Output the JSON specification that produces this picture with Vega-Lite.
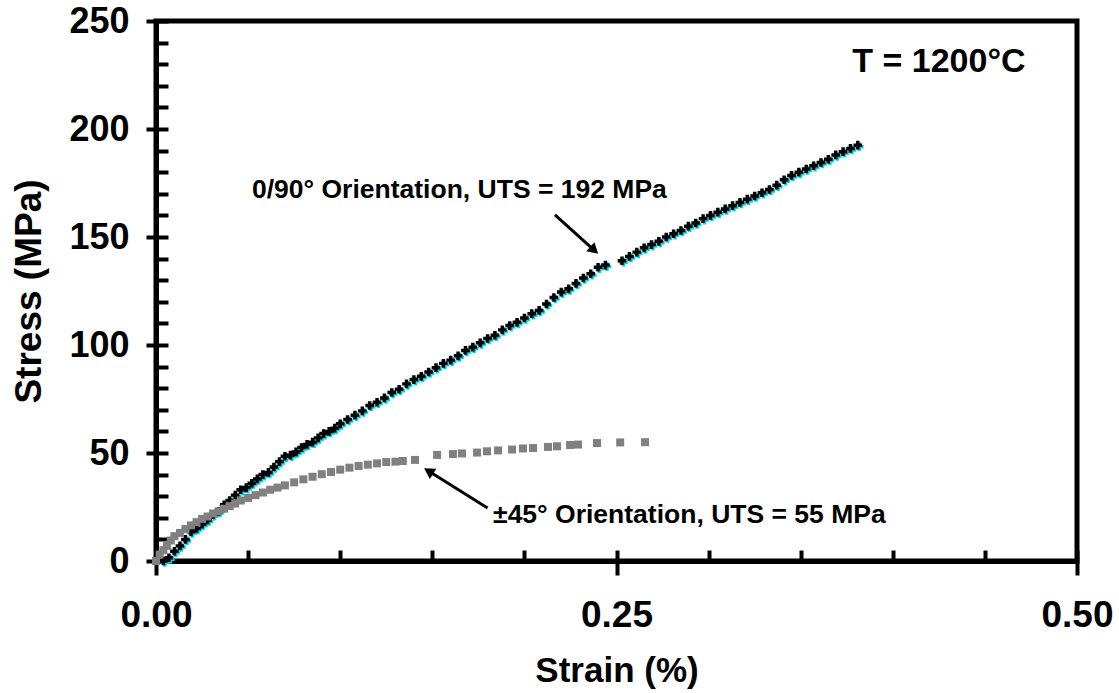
{
  "$schema": "https://vega.github.io/schema/vega-lite/v6.json",
  "width": 921,
  "height": 540,
  "autosize": {"type": "none"},
  "padding": {"left": 156, "top": 21, "right": 42, "bottom": 132},
  "background": "white",
  "config": {
    "view": {"stroke": "black", "strokeWidth": 5},
    "font": "Liberation Sans",
    "axis": {"labelFont": "Liberation Sans", "titleFont": "Liberation Sans", "labelFontWeight": "bold", "titleFontWeight": "bold", "labelColor": "black", "titleColor": "black", "domainColor": "black", "tickColor": "black", "grid": false}
  },
  "datasets": {
    "s090": [
      {"strain": 0.004, "stress": 0}, {"strain": 0.007, "stress": 1.5}, {"strain": 0.010, "stress": 4.5}, {"strain": 0.013, "stress": 7},
      {"strain": 0.016, "stress": 10}, {"strain": 0.019, "stress": 13.5}, {"strain": 0.022, "stress": 15}, {"strain": 0.025, "stress": 17},
      {"strain": 0.028, "stress": 19}, {"strain": 0.031, "stress": 21.5}, {"strain": 0.034, "stress": 23}, {"strain": 0.037, "stress": 26},
      {"strain": 0.040, "stress": 28}, {"strain": 0.043, "stress": 30.5}, {"strain": 0.046, "stress": 33}, {"strain": 0.049, "stress": 34},
      {"strain": 0.052, "stress": 36}, {"strain": 0.055, "stress": 38}, {"strain": 0.058, "stress": 40}, {"strain": 0.061, "stress": 41},
      {"strain": 0.064, "stress": 43.5}, {"strain": 0.067, "stress": 46}, {"strain": 0.070, "stress": 48.5}, {"strain": 0.073, "stress": 49},
      {"strain": 0.076, "stress": 50.5}, {"strain": 0.079, "stress": 52.5}, {"strain": 0.082, "stress": 54}, {"strain": 0.085, "stress": 55},
      {"strain": 0.088, "stress": 57}, {"strain": 0.091, "stress": 59}, {"strain": 0.094, "stress": 60}, {"strain": 0.097, "stress": 61.5},
      {"strain": 0.100, "stress": 63.5}, {"strain": 0.104, "stress": 65.5}, {"strain": 0.108, "stress": 67.5}, {"strain": 0.112, "stress": 69.5},
      {"strain": 0.116, "stress": 72}, {"strain": 0.120, "stress": 73.5}, {"strain": 0.124, "stress": 75.5}, {"strain": 0.128, "stress": 78},
      {"strain": 0.132, "stress": 79.5}, {"strain": 0.136, "stress": 82}, {"strain": 0.140, "stress": 84}, {"strain": 0.144, "stress": 85.5},
      {"strain": 0.148, "stress": 87.5}, {"strain": 0.152, "stress": 89.5}, {"strain": 0.156, "stress": 91.5}, {"strain": 0.160, "stress": 93},
      {"strain": 0.164, "stress": 95}, {"strain": 0.168, "stress": 97.5}, {"strain": 0.172, "stress": 99}, {"strain": 0.176, "stress": 101},
      {"strain": 0.180, "stress": 103}, {"strain": 0.184, "stress": 104.5}, {"strain": 0.188, "stress": 107}, {"strain": 0.192, "stress": 109},
      {"strain": 0.196, "stress": 110.5}, {"strain": 0.200, "stress": 112.5}, {"strain": 0.204, "stress": 114.5}, {"strain": 0.208, "stress": 116},
      {"strain": 0.212, "stress": 119}, {"strain": 0.216, "stress": 122}, {"strain": 0.220, "stress": 124.5}, {"strain": 0.224, "stress": 126},
      {"strain": 0.228, "stress": 128.5}, {"strain": 0.232, "stress": 131}, {"strain": 0.236, "stress": 133}, {"strain": 0.240, "stress": 136},
      {"strain": 0.244, "stress": 137}, {"strain": 0.253, "stress": 139}, {"strain": 0.257, "stress": 141}, {"strain": 0.261, "stress": 143},
      {"strain": 0.265, "stress": 145}, {"strain": 0.269, "stress": 146.5}, {"strain": 0.273, "stress": 148}, {"strain": 0.277, "stress": 150},
      {"strain": 0.281, "stress": 151.5}, {"strain": 0.285, "stress": 153}, {"strain": 0.289, "stress": 155}, {"strain": 0.293, "stress": 156.5},
      {"strain": 0.297, "stress": 158.5}, {"strain": 0.301, "stress": 160}, {"strain": 0.305, "stress": 161.5}, {"strain": 0.309, "stress": 163},
      {"strain": 0.313, "stress": 164.5}, {"strain": 0.317, "stress": 166}, {"strain": 0.321, "stress": 167.5}, {"strain": 0.325, "stress": 169},
      {"strain": 0.329, "stress": 170.5}, {"strain": 0.333, "stress": 172}, {"strain": 0.337, "stress": 174}, {"strain": 0.341, "stress": 176.5},
      {"strain": 0.345, "stress": 178.5}, {"strain": 0.349, "stress": 180}, {"strain": 0.353, "stress": 181.5}, {"strain": 0.357, "stress": 183},
      {"strain": 0.361, "stress": 184.5}, {"strain": 0.365, "stress": 186}, {"strain": 0.369, "stress": 188}, {"strain": 0.373, "stress": 189.5},
      {"strain": 0.377, "stress": 191}, {"strain": 0.381, "stress": 192.5}
    ],
    "s45": [
      {"strain": 0.000, "stress": 0}, {"strain": 0.002, "stress": 3}, {"strain": 0.004, "stress": 5}, {"strain": 0.006, "stress": 7},
      {"strain": 0.008, "stress": 9.5}, {"strain": 0.010, "stress": 11.5}, {"strain": 0.013, "stress": 13}, {"strain": 0.016, "stress": 14.8},
      {"strain": 0.019, "stress": 16.5}, {"strain": 0.022, "stress": 18}, {"strain": 0.025, "stress": 19.5}, {"strain": 0.028, "stress": 20.6},
      {"strain": 0.031, "stress": 22}, {"strain": 0.034, "stress": 23}, {"strain": 0.037, "stress": 24.2}, {"strain": 0.040, "stress": 25.4},
      {"strain": 0.043, "stress": 26.6}, {"strain": 0.046, "stress": 28}, {"strain": 0.050, "stress": 29.2}, {"strain": 0.054, "stress": 30.5},
      {"strain": 0.058, "stress": 31.7}, {"strain": 0.062, "stress": 33}, {"strain": 0.066, "stress": 34}, {"strain": 0.070, "stress": 35},
      {"strain": 0.075, "stress": 36.4}, {"strain": 0.080, "stress": 37.8}, {"strain": 0.085, "stress": 39}, {"strain": 0.090, "stress": 40.2},
      {"strain": 0.095, "stress": 41.2}, {"strain": 0.100, "stress": 42.3}, {"strain": 0.105, "stress": 43.2}, {"strain": 0.110, "stress": 44},
      {"strain": 0.115, "stress": 44.6}, {"strain": 0.120, "stress": 45.2}, {"strain": 0.125, "stress": 45.8}, {"strain": 0.130, "stress": 46},
      {"strain": 0.134, "stress": 46.3}, {"strain": 0.1406, "stress": 46.8}, {"strain": 0.1526, "stress": 49.1}, {"strain": 0.1612, "stress": 49.5},
      {"strain": 0.1661, "stress": 49.8}, {"strain": 0.1743, "stress": 50.2}, {"strain": 0.1797, "stress": 50.8}, {"strain": 0.1857, "stress": 51.2},
      {"strain": 0.1933, "stress": 51.6}, {"strain": 0.1992, "stress": 52.1}, {"strain": 0.2047, "stress": 52.3}, {"strain": 0.2128, "stress": 52.8},
      {"strain": 0.2177, "stress": 53.1}, {"strain": 0.2248, "stress": 53.7}, {"strain": 0.2291, "stress": 53.9}, {"strain": 0.2394, "stress": 54.6},
      {"strain": 0.252, "stress": 54.9}, {"strain": 0.2655, "stress": 55}
    ],
    "arrows": [
      {"x": 0.2166, "y": 160.2, "x2": 0.2372, "y2": 144.4, "angle": 132},
      {"x": 0.180, "y": 24.5, "x2": 0.1488, "y2": 41.2, "angle": 302}
    ],
    "labels": [
      {"x": 0.0521, "y": 171.8, "text": "0/90° Orientation, UTS = 192 MPa", "size": 26.5},
      {"x": 0.183, "y": 21.3, "text": "±45° Orientation, UTS = 55 MPa", "size": 26.5},
      {"x": 0.378, "y": 231, "text": "T = 1200°C", "size": 34}
    ]
  },
  "resolve": {"axis": {"x": "independent", "y": "independent"}},
  "layer": [
    {
      "data": {"name": "s090"},
      "mark": {"type": "point", "shape": "cross", "filled": true, "size": 75, "color": "#00d8e8", "xOffset": 1.5, "yOffset": 1.5, "opacity": 1},
      "encoding": {
        "x": {"field": "strain", "type": "quantitative", "scale": {"domain": [0, 0.5], "nice": false, "zero": false},
          "axis": {"orient": "bottom", "values": [0, 0.25, 0.5], "format": ".2f", "tickSize": 14, "tickWidth": 4, "domainWidth": 5, "labelFontSize": 37, "labelPadding": 22, "labelFlush": false, "title": "Strain (%)", "titleFontSize": 35, "titlePadding": 20}},
        "y": {"field": "stress", "type": "quantitative", "scale": {"domain": [0, 250], "nice": false},
          "axis": {"orient": "left", "values": [0, 50, 100, 150, 200, 250], "tickSize": 10, "tickWidth": 4, "domainWidth": 5, "labelFontSize": 36, "labelPadding": 17, "labelFlush": false, "title": "Stress (MPa)", "titleFontSize": 37, "titlePadding": 20}}
      }
    },
    {
      "data": {"name": "s090"},
      "mark": {"type": "point", "shape": "cross", "filled": true, "size": 75, "color": "black", "opacity": 1},
      "encoding": {
        "x": {"field": "strain", "type": "quantitative",
          "axis": {"orient": "bottom", "values": [0, 0.05, 0.1, 0.15, 0.2, 0.25, 0.3, 0.35, 0.4, 0.45, 0.5], "tickSize": -11, "tickWidth": 4, "domain": false, "labels": false, "title": null}},
        "y": {"field": "stress", "type": "quantitative",
          "axis": {"orient": "left", "values": [0, 10, 20, 30, 40, 50, 60, 70, 80, 90, 100, 110, 120, 130, 140, 150, 160, 170, 180, 190, 200, 210, 220, 230, 240, 250], "tickSize": -12, "tickWidth": 4, "domain": false, "labels": false, "title": null}}
      }
    },
    {
      "data": {"name": "s45"},
      "mark": {"type": "point", "shape": "square", "filled": true, "size": 64, "color": "#808080", "opacity": 1},
      "encoding": {
        "x": {"field": "strain", "type": "quantitative", "axis": null},
        "y": {"field": "stress", "type": "quantitative", "axis": null}
      }
    },
    {
      "data": {"name": "arrows"},
      "mark": {"type": "rule", "color": "black", "strokeWidth": 3},
      "encoding": {
        "x": {"field": "x", "type": "quantitative", "axis": null},
        "y": {"field": "y", "type": "quantitative", "axis": null},
        "x2": {"field": "x2"},
        "y2": {"field": "y2"}
      }
    },
    {
      "data": {"name": "arrows"},
      "mark": {"type": "point", "shape": "triangle", "filled": true, "size": 150, "color": "black", "opacity": 1},
      "encoding": {
        "x": {"field": "x2", "type": "quantitative", "axis": null},
        "y": {"field": "y2", "type": "quantitative", "axis": null},
        "angle": {"field": "angle", "type": "quantitative", "scale": null}
      }
    },
    {
      "data": {"name": "labels"},
      "mark": {"type": "text", "align": "left", "baseline": "middle", "font": "Liberation Sans", "fontWeight": "bold", "color": "black"},
      "encoding": {
        "x": {"field": "x", "type": "quantitative", "axis": null},
        "y": {"field": "y", "type": "quantitative", "axis": null},
        "text": {"field": "text"},
        "size": {"field": "size", "type": "quantitative", "scale": null}
      }
    }
  ]
}
